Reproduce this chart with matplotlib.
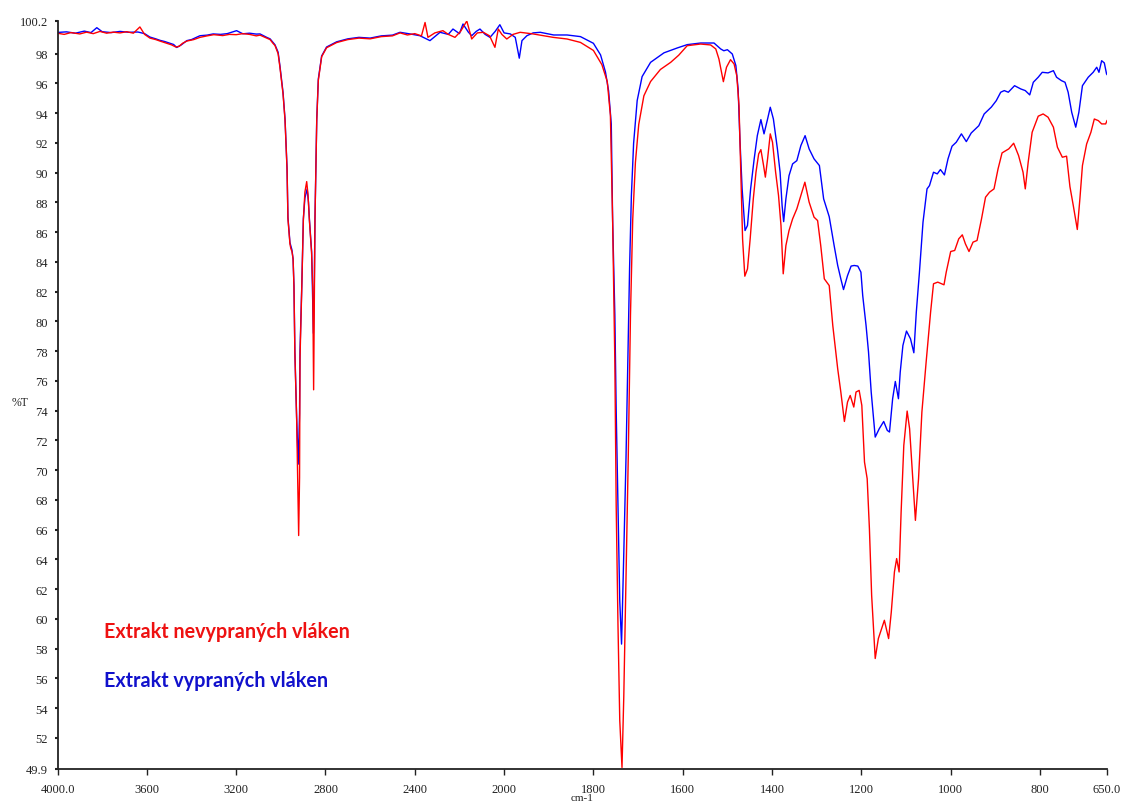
import numpy as np
import matplotlib
matplotlib.use('Agg')
import matplotlib.pyplot as plt
from matplotlib.ticker import NullLocator

# FTIR spectra, %T against wavenumber (cm-1)
wn_blue = [4000, 3960, 3920, 3880, 3850, 3824, 3800, 3760, 3720, 3680, 3640, 3610, 3586, 3560, 3541,
           3520, 3496, 3480, 3466, 3445, 3421, 3400, 3362, 3330, 3303, 3270, 3240, 3198, 3170, 3140,
           3110, 3093, 3063, 3048, 3035, 3026, 3012, 3004, 2990, 2981, 2972, 2968, 2959, 2950, 2945,
           2941, 2937, 2929, 2922, 2916, 2914, 2906, 2899, 2892, 2882, 2876, 2872, 2862, 2858, 2854,
           2850, 2847, 2839, 2832, 2817, 2795, 2750, 2700, 2650, 2600, 2550, 2500, 2466, 2421, 2377,
           2332, 2287, 2250, 2229, 2200, 2184, 2160, 2145, 2125, 2108, 2085, 2063, 2040, 2019, 2000,
           1986, 1975, 1966, 1960, 1949, 1935, 1919, 1889, 1859, 1829, 1800, 1784, 1773, 1766, 1760,
           1757, 1752, 1749, 1745, 1741, 1737, 1732, 1727, 1723, 1719, 1715, 1710, 1702, 1691, 1672,
           1642, 1612, 1590, 1560, 1530, 1515, 1508, 1500, 1489, 1481, 1476, 1472, 1467, 1460.5, 1455,
           1448, 1440, 1433, 1425, 1418, 1410, 1404, 1397, 1388, 1382, 1377.5, 1374, 1369, 1362, 1354,
           1344.5, 1335.5, 1326, 1317, 1306, 1294, 1284.5, 1272, 1261, 1253, 1246, 1240, 1231, 1223, 1216,
           1208, 1201, 1197, 1189.5, 1184, 1178, 1169, 1160, 1150, 1142, 1137, 1130, 1124, 1117, 1113,
           1107, 1099, 1090, 1082.5, 1077, 1070, 1062, 1053, 1047.5, 1038.5, 1030, 1023, 1014, 1006, 997,
           987.5, 976, 965, 954, 937, 925, 909, 898, 888, 880, 871, 857, 843, 833, 823,
           815, 804, 795, 782, 770, 763, 752, 744, 737, 729, 720, 713, 705, 692, 681,
           673, 668, 662, 656, 651, 650]
t_blue = [99.43, 99.47, 99.38, 99.52, 99.42, 99.75, 99.48, 99.42, 99.5, 99.44, 99.46, 99.35, 99.12, 99.0, 98.9,
          98.82, 98.7, 98.62, 98.42, 98.6, 98.88, 98.95, 99.21, 99.25, 99.33, 99.3, 99.35, 99.55, 99.34, 99.38,
          99.32, 99.33, 99.1, 99.0, 98.77, 98.6, 98.1, 97.2, 95.4, 93.6, 90.3, 87.0, 85.3, 84.8, 84.2,
          82.4, 78.0, 73.5, 70.4, 73.8, 78.0, 82.4, 86.9, 88.3, 88.9, 88.0, 86.9, 84.7, 82.0, 79.2,
          82.5, 86.9, 93.6, 96.3, 97.85, 98.45, 98.8, 99.0, 99.1, 99.05, 99.2, 99.25, 99.44, 99.33, 99.21,
          98.88, 99.44, 99.3, 99.66, 99.35, 100.0, 99.45, 99.21, 99.5, 99.66, 99.3, 99.1, 99.5, 99.95, 99.4,
          99.33, 99.1, 97.7, 98.88, 99.21, 99.4, 99.44, 99.26, 99.26, 99.15, 98.7, 97.92, 96.77, 95.5, 93.28,
          86.83, 80.44, 74.0, 67.6, 61.2, 58.3, 64.4, 70.83, 77.22, 83.6, 88.44, 91.97, 94.85, 96.46, 97.42,
          98.06, 98.39, 98.61, 98.72, 98.72, 98.32, 98.2, 98.27, 97.98, 97.2, 95.63, 92.27, 88.91, 86.11, 86.45,
          88.91, 90.93, 92.49, 93.57, 92.61, 93.61, 94.4, 93.61, 91.6, 90.03, 87.79, 86.71, 88.24, 89.8, 90.59,
          90.81, 91.82, 92.49, 91.6, 90.93, 90.48, 88.24, 87.04, 85.1, 83.76, 82.86, 82.14, 83.08, 83.72, 83.76,
          83.72, 83.31, 81.74, 79.72, 77.94, 75.25, 72.22, 72.78, 73.27, 72.67, 72.56, 74.8, 75.96, 74.8, 76.59,
          78.38, 79.35, 78.83, 77.89, 80.62, 83.3, 86.67, 88.91, 89.13, 90.03, 89.92, 90.21, 89.85, 90.93, 91.78,
          92.05, 92.61, 92.09, 92.67, 93.16, 93.95, 94.41, 94.84, 95.41, 95.52, 95.41, 95.85, 95.63, 95.52, 95.23,
          96.08, 96.42, 96.75, 96.71, 96.86, 96.42, 96.19, 96.08, 95.41, 94.06, 93.06, 94.06, 95.85, 96.42, 96.75,
          97.09, 96.75, 97.53, 97.38, 96.64, 96.6]

wn_red = [4000, 3970, 3940, 3900, 3870, 3840, 3810, 3780, 3750, 3720, 3690, 3660, 3631, 3610, 3586,
          3560, 3541, 3510, 3490, 3470, 3455, 3440, 3421, 3390, 3362, 3330, 3300, 3260, 3230, 3200,
          3170, 3140, 3110, 3093, 3063, 3048, 3035, 3026, 3012, 3004, 2990, 2981, 2972, 2968, 2959,
          2955, 2950, 2945, 2941, 2937, 2929, 2924, 2920, 2916, 2914, 2906, 2899, 2892, 2884, 2878,
          2872, 2862, 2857, 2855, 2853, 2851, 2849, 2847, 2839, 2832, 2817, 2795, 2750, 2700, 2650,
          2600, 2550, 2500, 2466, 2433, 2400, 2370, 2354, 2341, 2310, 2274, 2250, 2220, 2195, 2167,
          2145, 2120, 2093, 2065, 2041, 2026, 2010, 1994, 1980, 1964, 1935, 1890, 1859, 1829, 1800,
          1781, 1769, 1762, 1757, 1752, 1749, 1745, 1741, 1736, 1732, 1727, 1722, 1717, 1712, 1706,
          1698.5, 1687, 1672, 1650, 1627, 1609, 1590, 1560, 1537.5, 1526, 1519, 1509, 1502, 1493, 1485,
          1479, 1474, 1470, 1466, 1461, 1455, 1449, 1442, 1436, 1430, 1425, 1419, 1415, 1410, 1404,
          1399, 1392, 1385.5, 1380, 1375, 1369, 1362, 1354, 1344.5, 1335.5, 1326.5, 1317, 1306, 1298, 1291,
          1283, 1272, 1264, 1253, 1246, 1238, 1231, 1225, 1217, 1212, 1205, 1199, 1193, 1187, 1182,
          1177, 1169, 1162, 1148.5, 1139, 1133, 1126, 1121, 1115.5, 1111, 1105, 1097.5, 1092, 1085, 1079,
          1072, 1064.5, 1055, 1045, 1038.5, 1029, 1015, 1010, 1000, 991, 982, 974, 967, 959, 950,
          941, 931, 922, 913, 903, 894, 885, 870, 859, 848, 838, 833, 826.5, 817.6, 804,
          793, 782, 770, 761, 750, 740.5, 733, 725.5, 716.5, 710.7, 705, 695.6, 686, 678.4, 669.4,
          662, 653, 650]
t_red = [99.38, 99.3, 99.42, 99.33, 99.45, 99.35, 99.5, 99.38, 99.45, 99.4, 99.48, 99.38, 99.8, 99.3, 99.05,
         98.95, 98.85, 98.7, 98.6, 98.45, 98.5, 98.7, 98.85, 98.95, 99.1, 99.2, 99.28, 99.22, 99.3, 99.28,
         99.35, 99.3, 99.2, 99.25, 99.05, 98.95, 98.7, 98.55, 98.0, 97.1, 95.3, 93.5, 90.2, 86.9, 85.2,
         84.9, 84.7, 84.2, 82.3, 77.9, 73.4, 69.0, 65.6, 69.5, 77.5, 82.3, 86.8, 88.7, 89.4, 88.5,
         86.8, 84.6, 82.3, 79.0, 75.4, 79.0, 82.5, 86.8, 93.5, 96.2, 97.8, 98.4, 98.75, 98.95, 99.05,
         99.0, 99.15, 99.2, 99.4, 99.26, 99.35, 99.2, 100.1, 99.1, 99.4, 99.55, 99.3, 99.1, 99.5, 100.2,
         98.99, 99.4, 99.44, 99.2, 98.43, 99.66, 99.3, 98.99, 99.3, 99.44, 99.33, 99.1, 98.99, 98.76, 98.22,
         97.26, 96.13, 93.88, 86.83, 77.22, 67.6, 59.6, 53.16, 50.0, 54.77, 62.77, 70.83, 80.44, 86.83, 90.68,
         93.25, 95.17, 96.13, 96.94, 97.42, 97.9, 98.54, 98.65, 98.59, 98.32, 97.65, 96.12, 97.09, 97.6, 97.31,
         96.52, 94.51, 90.03, 85.55, 83.04, 83.53, 85.55, 88.24, 90.03, 91.26, 91.55, 90.48, 89.7, 90.93, 92.61,
         92.05, 90.03, 88.46, 86.45, 83.2, 85.1, 86.11, 86.89, 87.57, 88.46, 89.36, 88.02, 87.01, 86.78, 85.1,
         82.86, 82.41, 79.72, 76.81, 75.25, 73.27, 74.58, 75.02, 74.24, 75.25, 75.36, 74.35, 70.54, 69.42, 66.06,
         61.58, 57.33, 58.67, 59.9, 58.67, 60.46, 63.15, 64.05, 63.15, 67.18, 71.66, 73.97, 72.78, 69.42, 66.62,
         69.42, 73.9, 77.26, 80.62, 82.53, 82.64, 82.46, 83.31, 84.7, 84.77, 85.55, 85.82, 85.21, 84.7, 85.33,
         85.44, 86.89, 88.35, 88.69, 88.91, 90.25, 91.33, 91.6, 91.98, 91.15, 90.03, 88.91, 90.7, 92.72, 93.8,
         93.95, 93.73, 93.06, 91.71, 91.04, 91.11, 89.06, 87.79, 86.18, 88.24, 90.48, 91.93, 92.72, 93.61, 93.5,
         93.28, 93.28, 93.5]

xticks = [4000, 3600, 3200, 2800, 2400, 2000, 1800, 1600, 1400, 1200, 1000, 800, 650]
xtick_labels = ['4000.0', '3600', '3200', '2800', '2400', '2000', '1800', '1600', '1400',
                '1200', '1000', '800', '650.0']
yticks = [100.2, 98, 96, 94, 92, 90, 88, 86, 84, 82, 80, 78, 76, 74, 72, 70, 68, 66, 64,
          62, 60, 58, 56, 54, 52, 49.9]
ytick_labels = ['100.2'] + [str(v) for v in yticks[1:-1]] + ['49.9']

label_red = 'Extrakt nevypraných vláken'
label_blue = 'Extrakt vypraných vláken'


# wavenumbers above 2000 are drawn at half scale
def fwd(x):
    x = np.asarray(x, dtype=float)
    return np.where(x > 2000, 2000 + (x - 2000) / 2.0, x)


def inv(u):
    u = np.asarray(u, dtype=float)
    return np.where(u > 2000, 2000 + (u - 2000) * 2.0, u)


serif = 'Liberation Serif'

fig = plt.figure(figsize=(11.27, 8.03), dpi=100)
ax = fig.add_axes([57.5 / 1127, 1 - 770 / 803, 1049.5 / 1127, 748 / 803])
ax.set_xscale('function', functions=(fwd, inv))

ax.plot(wn_blue, t_blue, color='#0000ff', lw=1.0)
ax.plot(wn_red, t_red, color='#ff0000', lw=1.0)

ax.set_xlim(4000, 650)
ax.set_ylim(49.9, 100.2)

ax.set_xticks(xticks)
ax.set_xticklabels(xtick_labels, fontfamily=serif, fontsize=9)
ax.set_yticks(yticks)
ax.set_yticklabels(ytick_labels, fontfamily=serif, fontsize=9)
ax.xaxis.set_minor_locator(NullLocator())
ax.yaxis.set_minor_locator(NullLocator())
ax.tick_params(axis='x', direction='out', length=4, width=1, pad=6, colors='#222222')
ax.tick_params(axis='y', direction='out', length=2, width=1.5, pad=5, colors='#222222')

for side in ['top', 'right']:
    ax.spines[side].set_visible(False)
for side in ['left', 'bottom']:
    ax.spines[side].set_linewidth(1.3)
    ax.spines[side].set_color('#222222')

ax.text(-0.036, 0.49, '%T', transform=ax.transAxes, ha='center', va='center',
        fontfamily=serif, fontsize=8.5, color='#222222')
# axis unit sits just under the tick labels, at the bottom edge
ax.text(0.5, -0.0325, 'cm-1', transform=ax.transAxes, ha='center', va='top',
        fontfamily=serif, fontsize=8, color='#222222')

ax.text(0.0443, 0.1845, label_red, transform=ax.transAxes, ha='left', va='center',
        fontfamily='Lato', fontweight='bold', fontsize=14.2, color='#ee1111')
ax.text(0.0443, 0.119, label_blue, transform=ax.transAxes, ha='left', va='center',
        fontfamily='Lato', fontweight='bold', fontsize=14.2, color='#1111cc')

fig.savefig('out.png', dpi=100)
